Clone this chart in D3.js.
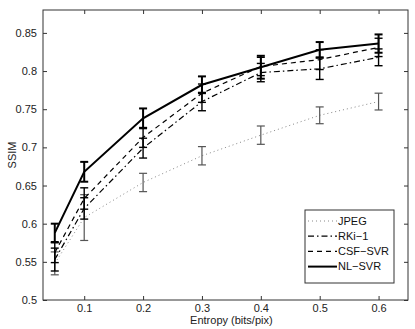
<!DOCTYPE html>
<html>
<head>
<meta charset="utf-8">
<script src="https://cdn.jsdelivr.net/npm/d3@7"></script>
<style>
  body { margin: 0; background: #fff; }
  text { font-family: "Liberation Sans", Arial, sans-serif; }
</style>
</head>
<body>
<script>
// entropy values (bits/pix)
var entropy = [0.05, 0.1, 0.2, 0.3, 0.4, 0.5, 0.6];

var jpegMean = [0.548, 0.608, 0.654, 0.689, 0.716, 0.742, 0.760];
var jpegErr  = [0.015, 0.030, 0.012, 0.012, 0.012, 0.011, 0.011];
var rkiMean  = [0.553, 0.620, 0.699, 0.760, 0.798, 0.803, 0.818];
var rkiErr   = [0.015, 0.014, 0.013, 0.012, 0.012, 0.014, 0.011];
var csfMean  = [0.562, 0.633, 0.713, 0.771, 0.806, 0.815, 0.831];
var csfErr   = [0.013, 0.014, 0.013, 0.012, 0.012, 0.013, 0.012];
var nlMean   = [0.588, 0.668, 0.738, 0.782, 0.805, 0.828, 0.836];
var nlErr    = [0.012, 0.013, 0.013, 0.011, 0.015, 0.010, 0.012];

var xTicks = [0.1, 0.2, 0.3, 0.4, 0.5, 0.6];
var yTicks = [0.5, 0.55, 0.6, 0.65, 0.7, 0.75, 0.8, 0.85];

var series = [
    { name: "JPEG",    mean: jpegMean, err: jpegErr, color: "#888", barColor: "#555", width: 1,   barWidth: 1.2, dash: "1,3" },
    { name: "RKi\u22121", mean: rkiMean, err: rkiErr, color: "#000", barColor: "#000", width: 1.2, barWidth: 1.4, dash: "6,3,1.5,3" },
    { name: "CSF\u2212SVR", mean: csfMean, err: csfErr, color: "#000", barColor: "#000", width: 1.2, barWidth: 1.4, dash: "5,4" },
    { name: "NL\u2212SVR",  mean: nlMean,  err: nlErr,  color: "#000", barColor: "#000", width: 2,   barWidth: 2,   dash: null }
];

var outerWidth = 415;
var outerHeight = 329;
var margin = { left: 43, top: 10, right: 7, bottom: 29 };
var innerWidth = outerWidth - margin.left - margin.right;
var innerHeight = outerHeight - margin.top - margin.bottom;

var svg = d3.select("body").append("svg")
    .attr("width", outerWidth)
    .attr("height", outerHeight);

var g = svg.append("g")
    .attr("transform", "translate(" + margin.left + "," + margin.top + ")");

var xScale = d3.scaleLinear().domain([0.03, 0.65]).range([0, innerWidth]);
var yScale = d3.scaleLinear().domain([0.5, 0.88]).range([innerHeight, 0]);

var axisColor = "#333";
var tickLen = 4;

// axes with inward ticks, mirrored on top and right like matlab box
var fmt = function(d) { return String(+d.toFixed(2)); };

var xAxis = g.append("g")
    .attr("transform", "translate(0," + innerHeight + ")")
    .call(d3.axisBottom(xScale).tickValues(xTicks).tickSizeInner(-tickLen).tickSizeOuter(0).tickPadding(4).tickFormat(fmt));
var xTop = g.append("g")
    .call(d3.axisTop(xScale).tickValues(xTicks).tickSizeInner(-tickLen).tickSizeOuter(0));
var yAxis = g.append("g")
    .call(d3.axisLeft(yScale).tickValues(yTicks).tickSizeInner(-tickLen).tickSizeOuter(0).tickPadding(6).tickFormat(fmt));
var yRight = g.append("g")
    .attr("transform", "translate(" + innerWidth + ",0)")
    .call(d3.axisRight(yScale).tickValues(yTicks).tickSizeInner(-tickLen).tickSizeOuter(0));

// mirrored axes only carry tick marks
xTop.selectAll("text").remove();
yRight.selectAll("text").remove();

[xAxis, xTop, yAxis, yRight].forEach(function(a) {
    a.select(".domain").remove();
    a.selectAll("line").attr("stroke", axisColor);
    a.selectAll("text").attr("fill", "#222").style("font-size", "11px");
});

g.append("rect")
    .attr("width", innerWidth)
    .attr("height", innerHeight)
    .attr("fill", "none")
    .attr("stroke", axisColor)
    .attr("stroke-width", 1);

// axis labels
svg.append("text")
    .attr("x", margin.left + xScale(0.35))
    .attr("y", 324)
    .attr("text-anchor", "middle")
    .style("font-size", "11px")
    .attr("fill", "#222")
    .text("Entropy (bits/pix)");

svg.append("text")
    .attr("transform", "translate(16," + (margin.top + innerHeight / 2) + ") rotate(-90)")
    .attr("text-anchor", "middle")
    .style("font-size", "11px")
    .attr("fill", "#222")
    .text("SSIM");

var line = d3.line()
    .x(function(d) { return xScale(d.x); })
    .y(function(d) { return yScale(d.y); });

var capHalf = 4;

series.forEach(function(s) {
    var pts = entropy.map(function(x, i) { return { x: x, y: s.mean[i], e: s.err[i] }; });

    g.append("path")
        .datum(pts)
        .attr("d", line)
        .attr("fill", "none")
        .attr("stroke", s.color)
        .attr("stroke-width", s.width)
        .attr("stroke-dasharray", s.dash);

    var bars = g.append("g").selectAll("g")
        .data(pts)
        .enter().append("g")
        .attr("stroke", s.barColor)
        .attr("stroke-width", s.barWidth);

    bars.append("line")
        .attr("x1", function(d) { return xScale(d.x); })
        .attr("x2", function(d) { return xScale(d.x); })
        .attr("y1", function(d) { return yScale(d.y - d.e); })
        .attr("y2", function(d) { return yScale(d.y + d.e); });
    bars.append("line")
        .attr("x1", function(d) { return xScale(d.x) - capHalf; })
        .attr("x2", function(d) { return xScale(d.x) + capHalf; })
        .attr("y1", function(d) { return yScale(d.y - d.e); })
        .attr("y2", function(d) { return yScale(d.y - d.e); });
    bars.append("line")
        .attr("x1", function(d) { return xScale(d.x) - capHalf; })
        .attr("x2", function(d) { return xScale(d.x) + capHalf; })
        .attr("y1", function(d) { return yScale(d.y + d.e); })
        .attr("y2", function(d) { return yScale(d.y + d.e); });
});

// legend
var legend = svg.append("g").attr("transform", "translate(305,210)");
legend.append("rect")
    .attr("width", 89)
    .attr("height", 73)
    .attr("fill", "#fff")
    .attr("stroke", axisColor);

var item = legend.selectAll(".item")
    .data(series)
    .enter().append("g")
    .attr("class", "item")
    .attr("transform", function(d, i) { return "translate(0," + (11 + i * 15.2) + ")"; });

item.append("line")
    .attr("x1", 3).attr("x2", 32)
    .attr("stroke", function(d) { return d.color; })
    .attr("stroke-width", function(d) { return d.width; })
    .attr("stroke-dasharray", function(d) { return d.dash; });

item.append("text")
    .attr("x", 33)
    .attr("dy", "0.35em")
    .style("font-size", "11px")
    .attr("fill", "#111")
    .text(function(d) { return d.name; });
</script>
</body>
</html>
